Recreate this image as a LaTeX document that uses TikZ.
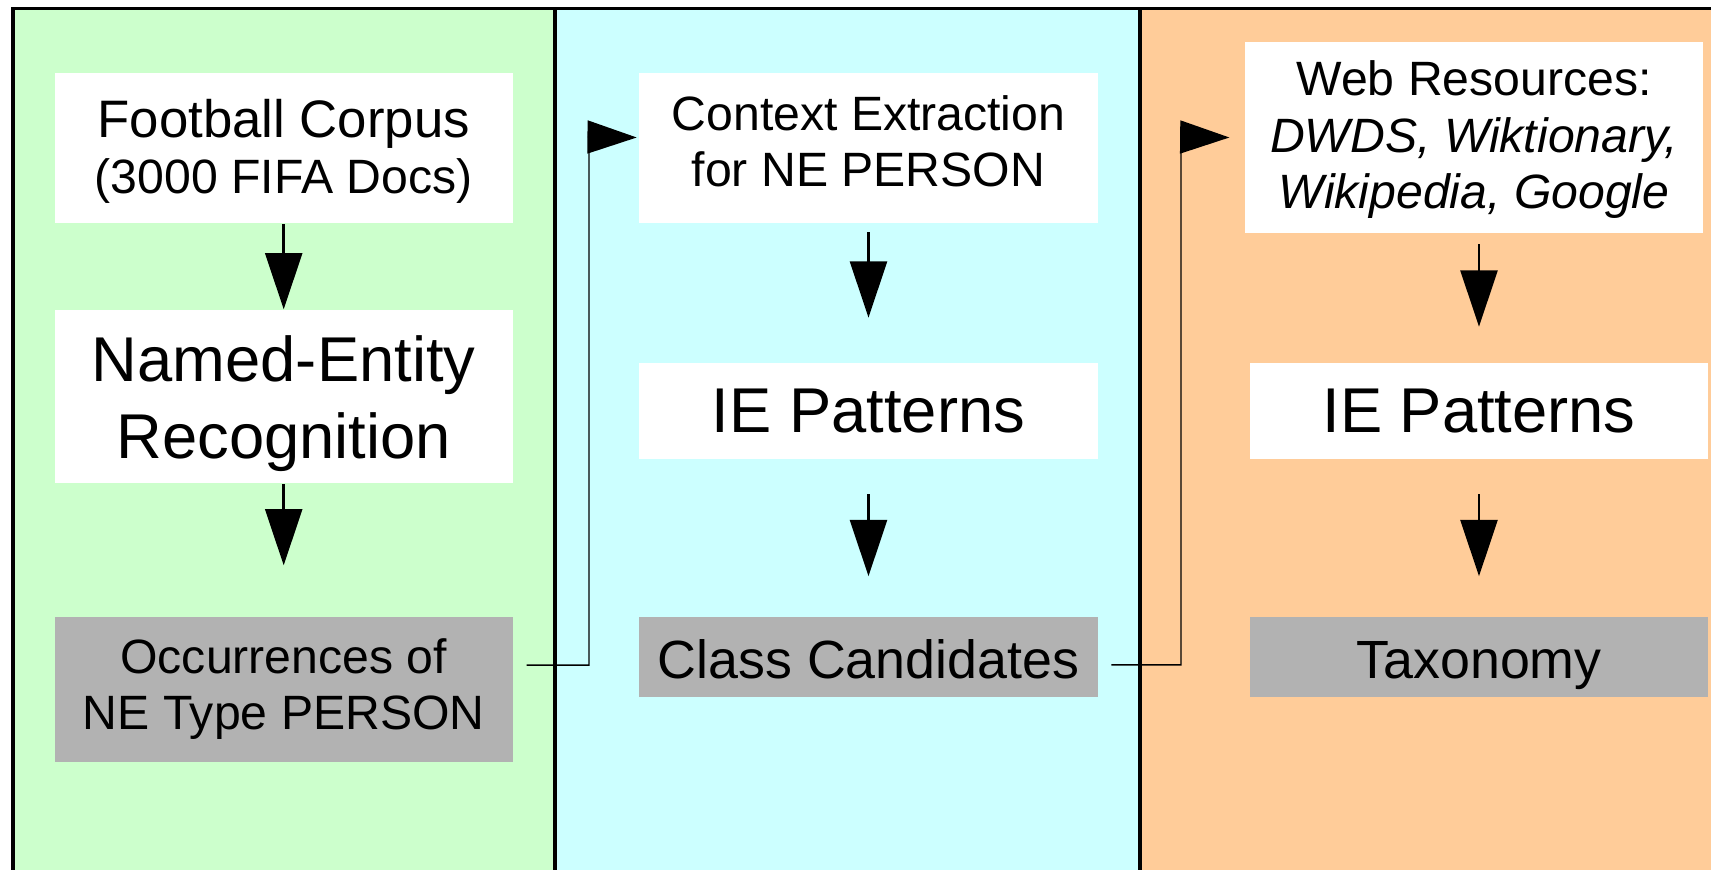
\documentclass[tikz,border=0pt]{standalone}
\usepackage{fontspec}
\setmainfont{Liberation Sans}
\usepackage{tikz}
\usetikzlibrary{calc}
\usetikzlibrary{arrows.meta}
\definecolor{pale_green}{HTML}{CCFFCC}
\definecolor{pale_cyan}{HTML}{CCFFFF}
\definecolor{pale_orange}{HTML}{FFCC99}
\definecolor{box_gray}{HTML}{B2B2B2}
\tikzset{
  box/.style = {align=center, inner sep=0pt, text centered,
    minimum width=4.58cm, font=\fontsize{13.7}{16}\selectfont},
  white_box/.style = {box, fill=white},
  gray_box/.style = {box, fill=box_gray},
  big_text/.style = {font=\fontsize{18}{21.8}\selectfont},
  mid_text/.style = {font=\fontsize{15.3}{18}\selectfont},
  drop/.style = {text height=#1, text depth=0pt},
  one_line/.style = {drop=12.2pt},
  down_arrow/.style = {-{Triangle[length=16pt, width=10.5pt]}, line width=0.8pt},
  link_arrow/.style = {-{Triangle[length=14pt, width=9.4pt]}, line width=0.4pt},
  panel_line/.style = {line width=0.9pt}
}
\begin{document}
\begin{tikzpicture}[x=0.01cm, y=-0.01cm]
  \useasboundingbox (0,0) rectangle (1711,870);
  \fill[pale_green] (13,8.5) rectangle (555,870);
  \fill[pale_cyan] (555,8.5) rectangle (1140,870);
  \fill[pale_orange] (1140,8.5) rectangle (1711,870);
  \draw[panel_line] (13,870) -- (13,8.5) -- (1711,8.5);
  \draw[panel_line] (555,8.5) -- (555,870);
  \draw[panel_line] (1140,8.5) -- (1140,870);

  \node[white_box, drop=25.7pt, minimum height=1.503cm] (corpus) at (283.7,148.2)
    {{\fontsize{15}{16.3}\selectfont Football Corpus}\\(3000 FIFA Docs)};
  \node[white_box, big_text, drop=35pt, minimum height=1.733cm] (ner) at (283.7,396.7)
    {Named-Entity\\Recognition};
  \node[gray_box, drop=23.2pt, minimum height=1.45cm] (occ) at (283.7,689.2)
    {Occurrences of\\NE Type PERSON};

  \node[white_box, drop=21.8pt, minimum height=1.5cm] (ctx) at (868.5,148.3)
    {Context Extraction\\for NE PERSON};
  \node[white_box, big_text, one_line, minimum height=0.96cm] (pat_mid) at (868.5,411.4)
    {IE Patterns};
  \node[gray_box, mid_text, one_line, minimum height=0.797cm] (cand) at (868.5,656.8)
    {Class Candidates};

  \node[white_box, drop=40.3pt, minimum height=1.916cm] (web) at (1474.2,137.5)
    {Web Resources:\\\textit{DWDS, Wiktionary,}\\\textit{Wikipedia, Google}};
  \node[white_box, big_text, one_line, minimum height=0.96cm] (pat_right) at (1479,411.4)
    {IE Patterns};
  \node[gray_box, mid_text, one_line, minimum height=0.797cm] (tax) at (1479,656.8)
    {Taxonomy};

  \draw[down_arrow] (corpus.south) -- (ner.north);
  \draw[down_arrow, shorten >=0.506cm] (ner.south) -- (occ.north);
  \draw[down_arrow, shorten <=0.08cm, shorten >=0.45cm] (ctx.south) -- (pat_mid.north);
  \draw[down_arrow, shorten <=0.34cm, shorten >=0.4cm] (pat_mid.south) -- (cand.north);
  \draw[down_arrow, shorten <=0.1cm, shorten >=0.36cm] (web.south -| pat_right.north) -- (pat_right.north);
  \draw[down_arrow, shorten <=0.34cm, shorten >=0.4cm] (pat_right.south) -- (tax.north);

  \coordinate (hop1) at (589,137);
  \coordinate (hop2) at (1181,137);
  \draw[link_arrow] ($(occ.east)+(13,-24)$) -| (hop1) -- ($(ctx.west |- web.west)+(-2,0)$);
  \draw[link_arrow] ($(cand.east)+(13,8)$) -| (hop2) -- ($(web.west)+(-15,0)$);
\end{tikzpicture}
\end{document}
